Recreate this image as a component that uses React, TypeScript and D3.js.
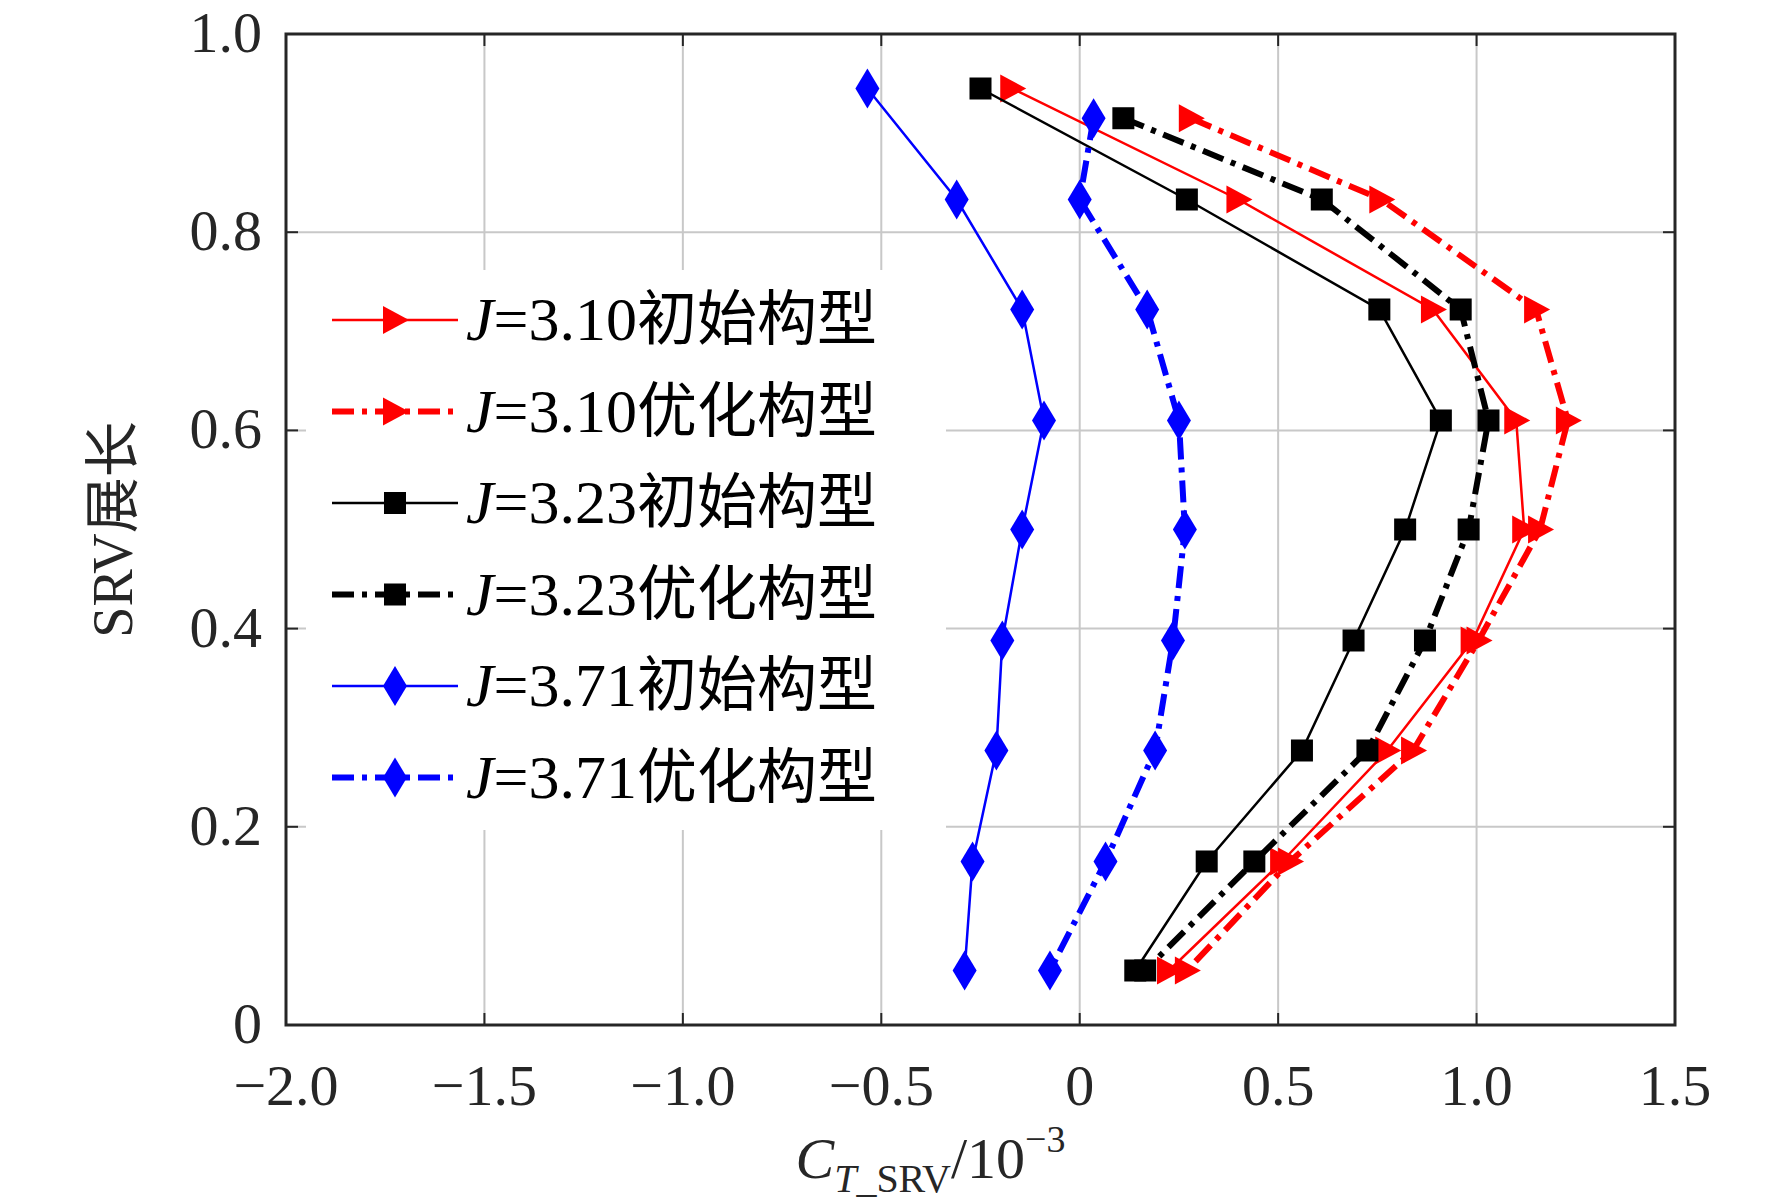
import React from 'react';
import * as d3 from 'd3';

const yLevels9 = [0.945, 0.833, 0.722, 0.61, 0.5, 0.388, 0.277, 0.165, 0.055];
const yLevelsOpt = [0.915, 0.833, 0.722, 0.61, 0.5, 0.388, 0.277, 0.165, 0.055];
const j310Init = [-0.17, 0.4, 0.89, 1.1, 1.12, 0.99, 0.775, 0.51, 0.225];
const j310Opt = [0.28, 0.76, 1.15, 1.23, 1.16, 1.005, 0.84, 0.53, 0.27];
const j323Init = [-0.25, 0.27, 0.755, 0.91, 0.82, 0.69, 0.56, 0.32, 0.14];
const j323Opt = [0.11, 0.61, 0.96, 1.03, 0.98, 0.87, 0.725, 0.44, 0.165];
const j371Init = [-0.535, -0.31, -0.145, -0.09, -0.145, -0.195, -0.21, -0.27, -0.29];
const j371Opt = [0.035, 0.0, 0.17, 0.25, 0.265, 0.235, 0.19, 0.065, -0.075];
const xTicks = [-2, -1.5, -1, -0.5, 0, 0.5, 1, 1.5];
const yTicks = [0, 0.2, 0.4, 0.6, 0.8, 1];

type S = { j: string; kind: string; xs: number[]; ys: number[]; color: string; dash: boolean; marker: 'tri' | 'sq' | 'dia' };
const series: S[] = [
  { j: '3.10', kind: '初始构型', xs: j310Init, ys: yLevels9, color: '#ff0000', dash: false, marker: 'tri' },
  { j: '3.10', kind: '优化构型', xs: j310Opt, ys: yLevelsOpt, color: '#ff0000', dash: true, marker: 'tri' },
  { j: '3.23', kind: '初始构型', xs: j323Init, ys: yLevels9, color: '#000000', dash: false, marker: 'sq' },
  { j: '3.23', kind: '优化构型', xs: j323Opt, ys: yLevelsOpt, color: '#000000', dash: true, marker: 'sq' },
  { j: '3.71', kind: '初始构型', xs: j371Init, ys: yLevels9, color: '#0000ff', dash: false, marker: 'dia' },
  { j: '3.71', kind: '优化构型', xs: j371Opt, ys: yLevelsOpt, color: '#0000ff', dash: true, marker: 'dia' },
];

const W = 1772, H = 1201;
const L = 286, R = 1675, T = 34, B = 1025;
const serif = '"Liberation Serif", "Times New Roman", serif';
const cjk = '"Noto Sans CJK SC", sans-serif';

function Marker({ type, x, y, color }: { type: string; x: number; y: number; color: string }) {
  if (type === 'tri') return <path d={`M${x + 14},${y} L${x - 12},${y - 14} L${x - 12},${y + 14} Z`} fill={color} />;
  if (type === 'sq') return <rect x={x - 11} y={y - 11} width={22} height={22} fill={color} />;
  return <path d={`M${x},${y - 20} L${x + 12},${y} L${x},${y + 20} L${x - 12},${y} Z`} fill={color} />;
}

export default function App() {
  const x = d3.scaleLinear().domain([-2, 1.5]).range([L, R]);
  const y = d3.scaleLinear().domain([0, 1]).range([B, T]);
  const line = d3.line<[number, number]>().x(d => x(d[0])).y(d => y(d[1]));
  const fmtX = (v: number) => (v === 0 ? '0' : (v < 0 ? '\u2212' : '') + Math.abs(v).toFixed(1));
  const fmtY = (v: number) => (v === 0 ? '0' : v.toFixed(1));
  const legX = 332, legY0 = 320, legDy = 91.5;
  return (
    <svg width={W} height={H} style={{ position: 'absolute', left: 0, top: 0, background: '#fff' }}>
      {xTicks.slice(1, -1).map(t => <line key={'gx' + t} x1={x(t)} x2={x(t)} y1={T} y2={B} stroke="#c8c8c8" strokeWidth={2} />)}
      {yTicks.slice(1, -1).map(t => <line key={'gy' + t} x1={L} x2={R} y1={y(t)} y2={y(t)} stroke="#c8c8c8" strokeWidth={2} />)}
      {xTicks.map(t => <g key={'tx' + t}>
        <line x1={x(t)} x2={x(t)} y1={B} y2={B - 12} stroke="#262626" strokeWidth={2} />
        <line x1={x(t)} x2={x(t)} y1={T} y2={T + 12} stroke="#262626" strokeWidth={2} />
        <text x={x(t)} y={B + 80} textAnchor="middle" fontFamily={serif} fontSize={58} fill="#262626">{fmtX(t)}</text>
      </g>)}
      {yTicks.map(t => <g key={'ty' + t}>
        <line x1={L} x2={L + 12} y1={y(t)} y2={y(t)} stroke="#262626" strokeWidth={2} />
        <line x1={R} x2={R - 12} y1={y(t)} y2={y(t)} stroke="#262626" strokeWidth={2} />
        <text x={L - 24} y={y(t) + 18} textAnchor="end" fontFamily={serif} fontSize={58} fill="#262626">{fmtY(t)}</text>
      </g>)}
      {/* legend background */}
      <rect x={306} y={270} width={640} height={560} fill="#fff" />
      {series.map((s, i) => {
        const pts = s.xs.map((v, k) => [v, s.ys[k]] as [number, number]);
        return <g key={i}>
          <path d={line(pts) || ''} fill="none" stroke={s.color} strokeWidth={s.dash ? 6 : 2.5} strokeDasharray={s.dash ? '22,8,5,8' : undefined} />
          {pts.map((p, k) => <Marker key={k} type={s.marker} x={x(p[0])} y={y(p[1])} color={s.color} />)}
        </g>;
      })}
      {series.map((s, i) => {
        const ly = legY0 + i * legDy;
        return <g key={'l' + i}>
          <line x1={legX} x2={legX + 126} y1={ly} y2={ly} stroke={s.color} strokeWidth={s.dash ? 6 : 2.5} strokeDasharray={s.dash ? '22,8,5,8' : undefined} />
          <Marker type={s.marker} x={legX + 63} y={ly} color={s.color} />
          <text x={legX + 134} y={ly + 20} fontSize={62} fill="#000">
            <tspan fontFamily={serif} fontStyle="italic">J</tspan>
            <tspan fontFamily={serif}>{'=' + s.j}</tspan>
            <tspan fontFamily={cjk} fontSize={60}>{s.kind}</tspan>
          </text>
        </g>;
      })}
      <rect x={L} y={T} width={R - L} height={B - T} fill="none" stroke="#262626" strokeWidth={3} />
      <text transform={`translate(132,${(T + B) / 2}) rotate(-90)`} textAnchor="middle" fontSize={56} fill="#262626">
        <tspan fontFamily={serif}>SRV</tspan><tspan fontFamily={cjk}>展长</tspan>
      </text>
      <text x={(L + R) / 2 - 50} y={1178} textAnchor="middle" fontFamily={serif} fontSize={58} fill="#262626">
        <tspan fontStyle="italic">C</tspan>
        <tspan fontStyle="italic" fontSize={40} dy={14}>T</tspan>
        <tspan fontSize={40}>_SRV</tspan>
        <tspan dy={-14}>/10</tspan>
        <tspan fontSize={38} dy={-26}>−3</tspan>
      </text>
    </svg>
  );
}
